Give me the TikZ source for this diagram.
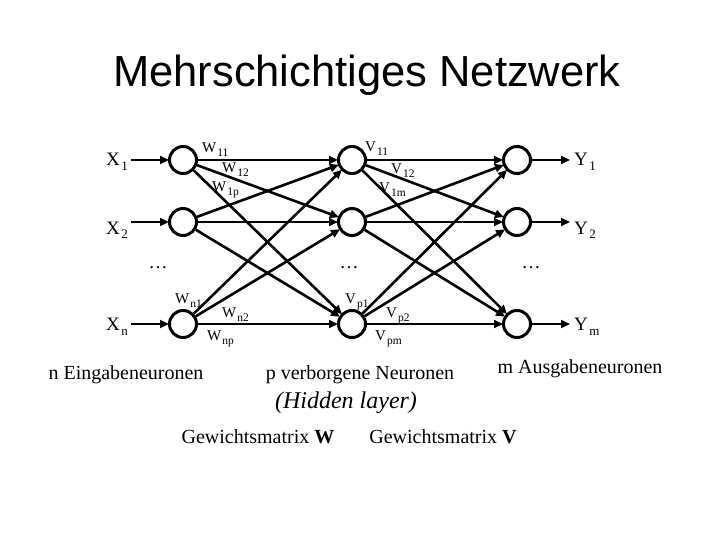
\documentclass[tikz,border=0pt]{standalone}
\usepackage{fontspec}
\setmainfont{Liberation Serif}
\newfontfamily\titlefont{Liberation Sans}
\usetikzlibrary{arrows.meta}
\newcommand\wsub[1]{\kern1pt\raisebox{-4pt}{\fontsize{11.5}{11.5}\selectfont #1}}
\newcommand\iosub[1]{\kern1.5pt\raisebox{-5pt}{\fontsize{13}{13}\selectfont #1}}
\begin{document}
\begin{tikzpicture}[x=1pt,y=-1pt,
  neuron/.style={circle,draw,line width=3pt,minimum size=27pt,inner sep=0pt},
  conn/.style={line width=2.6pt,-{Triangle[length=9pt,width=8pt]},shorten >=-1pt},
  wlab/.style={font=\fontsize{15}{15}\selectfont,anchor=base west,inner sep=0pt},
  iolab/.style={font=\fontsize{19}{19}\selectfont,inner sep=0pt},
  captext/.style={font=\fontsize{20}{20}\selectfont,inner sep=0pt}]
\useasboundingbox (0,0) rectangle (720,540);
\fill[white] (0,0) rectangle (720,540);
\node[font=\titlefont\fontsize{43.5}{43.5}\selectfont,inner sep=0pt] (title) at (367,75) {Mehrschichtiges Netzwerk};
% neurons
\node[neuron] (i1) at (183,160) {};
\node[neuron] (i2) at (183,222) {};
\node[neuron] (in) at (183,324) {};
\node[neuron] (h1) at (352,160) {};
\node[neuron] (h2) at (352,222) {};
\node[neuron] (hp) at (352,324) {};
\node[neuron] (o1) at (517,160) {};
\node[neuron] (o2) at (517,222) {};
\node[neuron] (om) at (517,324) {};
% input / output labels
\node[iolab,anchor=base west] (x1) at (106,166) {X\iosub{1}};
\node[iolab,anchor=base west] (x2) at (106,234) {X\iosub{2}};
\node[iolab,anchor=base west] (xn) at (106,330) {X\iosub{n}};
\node[iolab,anchor=base west] (y1) at (574,166) {Y\iosub{1}};
\node[iolab,anchor=base west] (y2) at (574,234) {Y\iosub{2}};
\node[iolab,anchor=base west] (ym) at (574,330) {Y\iosub{m}};
\coordinate (ax1) at (131,160);
\coordinate (ax2) at (131,222);
\coordinate (axn) at (131,324);
\coordinate (ay1) at (569,160);
\coordinate (ay2) at (569,222);
\coordinate (aym) at (569,324);
\draw[conn] (ax1) -- (i1);
\draw[conn] (ax2) -- (i2);
\draw[conn] (axn) -- (in);
\draw[conn] (o1) -- (ay1);
\draw[conn] (o2) -- (ay2);
\draw[conn] (om) -- (aym);
% connections
\foreach \a in {i1,i2,in}{\foreach \b in {h1,h2,hp}{\draw[conn] (\a) -- (\b);}}
\foreach \a in {h1,h2,hp}{\foreach \b in {o1,o2,om}{\draw[conn] (\a) -- (\b);}}
% dots
\node[iolab] (d1) at (158,268) {\dots};
\node[iolab] (d2) at (349,268) {\dots};
\node[iolab] (d3) at (531,268) {\dots};
% weight labels
\node[wlab] (w11) at (202,153) {W\wsub{11}};
\node[wlab] (w12) at (222,173) {W\wsub{12}};
\node[wlab] (w1p) at (212,192) {W\wsub{1p}};
\node[wlab] (v11) at (365,152) {V\wsub{11}};
\node[wlab] (v12) at (391,174) {V\wsub{12}};
\node[wlab] (v1m) at (379,193) {V\wsub{1m}};
\node[wlab] (wn1) at (175,303) {W\wsub{n1}};
\node[wlab] (wn2) at (222,317) {W\wsub{n2}};
\node[wlab] (wnp) at (207,340) {W\wsub{np}};
\node[wlab] (vp1) at (345,303) {V\wsub{p1}};
\node[wlab] (vp2) at (386,317) {V\wsub{p2}};
\node[wlab] (vpm) at (375,340) {V\wsub{pm}};
% captions
\node[captext] (c1) at (126,375) {n Eingabeneuronen};
\node[captext] (c2) at (360,375) {p verborgene Neuronen};
\node[captext] (c3) at (580,369) {m Ausgabeneuronen};
\node[font=\fontsize{24}{24}\selectfont\itshape,inner sep=0pt] (c4) at (346,403) {(Hidden layer)};
\node[captext] (c5) at (258,437) {Gewichtsmatrix \textbf{W}};
\node[captext] (c6) at (443,437) {Gewichtsmatrix \textbf{V}};
\end{tikzpicture}
\end{document}
